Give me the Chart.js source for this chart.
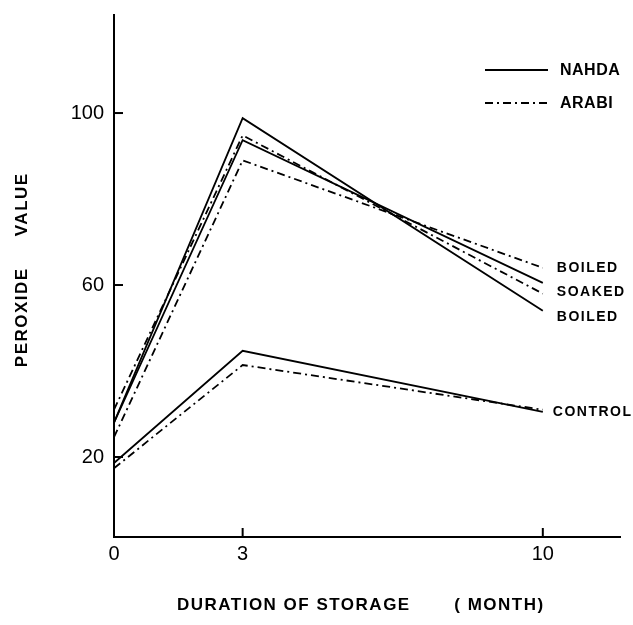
<!DOCTYPE html>
<html><head><meta charset="utf-8">
<script src="https://cdn.jsdelivr.net/npm/chart.js@4/dist/chart.umd.min.js"></script>
<style>html,body{margin:0;padding:0;background:#fff}#wrap{width:633px;height:625px}</style>
</head><body><div id="wrap"><canvas id="c" width="633" height="625"></canvas></div>
<script>
// Data
const months = [0, 3, 10];
const nahdaBoiled = [28, 98.8, 54];
const nahdaSoaked = [28, 93.7, 60.5];
const arabiBoiled = [24.6, 89, 64];
const arabiSoaked = [31, 94.8, 58];
const nahdaControl = [18.6, 44.7, 30.5];
const arabiControl = [17.4, 41.4, 31];
const yTicks = [20, 60, 100];
const xTicks = [0, 3, 10];
const endLabels = [
  {text: 'BOILED', value: 64},
  {text: 'SOAKED', value: 58.3},
  {text: 'BOILED', value: 52.5},
  {text: 'CONTROL', value: 30.5}
];
const legendItems = [{text: 'NAHDA', dash: []}, {text: 'ARABI', dash: [8, 4, 2, 4]}];

const FAM = '"Liberation Sans", Arial, sans-serif';
const DASH = [8, 4, 2, 4];
const toPts = arr => months.map((m, i) => ({x: m, y: arr[i]}));
function ds(label, arr, dash) {
  return {label, data: toPts(arr), borderColor: '#000', borderWidth: 1.8, borderDash: dash,
    pointRadius: 0, tension: 0, fill: false};
}

const decor = {
  id: 'decor',
  beforeDraw(chart) { chart.ctx.letterSpacing = '1.5px'; },
  beforeDatasetsDraw(chart) { chart.ctx.letterSpacing = '0px'; },
  afterDraw(chart) {
    const ctx = chart.ctx, xs = chart.scales.x, ys = chart.scales.y;
    ctx.save();
    ctx.strokeStyle = '#000'; ctx.fillStyle = '#000'; ctx.lineWidth = 2;
    // inward tick marks
    ys.ticks.forEach(t => {
      const py = ys.getPixelForValue(t.value);
      ctx.beginPath(); ctx.moveTo(xs.left, py); ctx.lineTo(xs.left + 9, py); ctx.stroke();
    });
    xs.ticks.forEach(t => {
      if (t.value === 0) return;
      const px = xs.getPixelForValue(t.value);
      ctx.beginPath(); ctx.moveTo(px, ys.bottom); ctx.lineTo(px, ys.bottom - 9); ctx.stroke();
    });
    // legend
    ctx.lineWidth = 1.8;
    ctx.font = 'bold 16px ' + FAM;
    ctx.textBaseline = 'middle'; ctx.textAlign = 'left';
    ctx.letterSpacing = '0.5px';
    legendItems.forEach((it, i) => {
      const y = 70 + i * 33;
      ctx.setLineDash(it.dash);
      ctx.beginPath(); ctx.moveTo(485, y); ctx.lineTo(548, y); ctx.stroke();
      ctx.setLineDash([]);
      ctx.fillText(it.text, 560, y + 1);
    });
    // end labels
    ctx.font = 'bold 14px ' + FAM;
    ctx.letterSpacing = '1.5px';
    endLabels.forEach(l => {
      const py = ys.getPixelForValue(l.value);
      const px = xs.getPixelForValue(10) + (l.text === 'CONTROL' ? 10 : 14);
      ctx.fillText(l.text, px, py);
    });
    ctx.restore();
  }
};

new Chart(document.getElementById('c'), {
  type: 'line',
  data: {
    datasets: [
      ds('Nahda boiled', nahdaBoiled, []),
      ds('Nahda soaked', nahdaSoaked, []),
      ds('Arabi boiled', arabiBoiled, DASH),
      ds('Arabi soaked', arabiSoaked, DASH),
      ds('Nahda control', nahdaControl, []),
      ds('Arabi control', arabiControl, DASH)
    ]
  },
  options: {
    responsive: false,
    animation: false,
    devicePixelRatio: 1,
    layout: {padding: {top: 15, right: 13, left: 0, bottom: 0}},
    plugins: {legend: {display: false}, tooltip: {enabled: false}},
    scales: {
      x: {
        type: 'linear', min: 0, max: 11.8,
        afterBuildTicks: s => { s.ticks = xTicks.map(v => ({value: v})); },
        afterFit: s => { s.height = 88; s.paddingLeft = 0; s.paddingRight = 0; },
        grid: {display: false, drawTicks: false},
        border: {display: true, color: '#000', width: 2},
        ticks: {color: '#000', font: {size: 20, family: FAM}, padding: 5, maxRotation: 0, autoSkip: false, z: 1},
        title: {display: true, text: 'DURATION OF STORAGE       ( MONTH)  ', color: '#000',
          font: {size: 17, weight: 'bold', family: FAM}, padding: {top: 0, bottom: 9}}
      },
      y: {
        type: 'linear', min: 1.4, max: 122.8,
        afterBuildTicks: s => { s.ticks = yTicks.map(v => ({value: v})); },
        afterFit: s => { s.width = 114; s.paddingTop = 0; s.paddingBottom = 0; },
        grid: {display: false, drawTicks: false},
        border: {display: true, color: '#000', width: 2},
        ticks: {color: '#000', font: {size: 20, family: FAM}, padding: 10, autoSkip: false, z: 1},
        title: {display: true, text: '  PEROXIDE     VALUE', color: '#000',
          font: {size: 17, weight: 'bold', family: FAM}, padding: {top: 12, bottom: 0}}
      }
    }
  },
  plugins: [decor]
});
</script></body></html>
